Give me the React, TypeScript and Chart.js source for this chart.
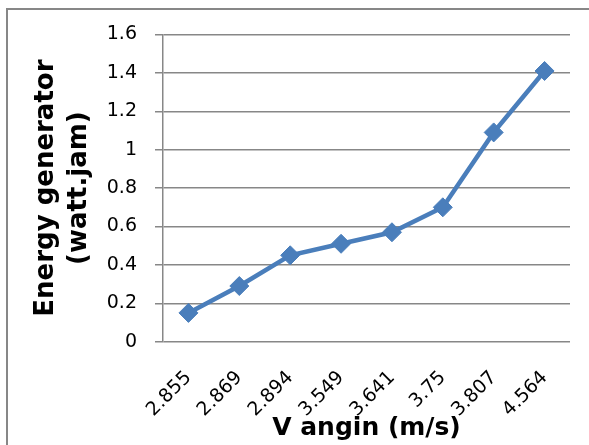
import React, { useEffect, useRef } from "react";
import { Chart, registerables } from "chart.js";

Chart.register(...registerables);

const categories = ["2.855", "2.869", "2.894", "3.549", "3.641", "3.75", "3.807", "4.564"];
const energyValues = [0.15, 0.29, 0.45, 0.51, 0.57, 0.7, 1.09, 1.41];
const yTitleLines = ["Energy generator", "(watt.jam)"];
const xTitle = "V angin (m/s)";

const W = 589;
const H = 445;

export default function App() {
  const ref = useRef<HTMLCanvasElement | null>(null);

  useEffect(() => {
    if (!ref.current) return;
    const chart = new Chart(ref.current, {
      type: "line",
      data: {
        labels: categories,
        datasets: [
          {
            data: energyValues,
            borderColor: "#4A7EBB",
            backgroundColor: "#4A7EBB",
            borderWidth: 4.5,
            pointStyle: "rectRot",
            pointRadius: 9.5,
            pointBorderWidth: 1,
            pointBorderColor: "#4A7EBB",
            pointBackgroundColor: "#4A7EBB",
            tension: 0,
          },
        ],
      },
      options: {
        animation: false,
        responsive: false,
        devicePixelRatio: 1,
        layout: { padding: { top: 34.5, right: 19, left: 0, bottom: 0 } },
        plugins: {
          legend: { display: false },
          tooltip: { enabled: false },
          title: { display: false },
        },
        scales: {
          x: {
            type: "category",
            offset: true,
            afterFit: (s: any) => {
              s.height = 103.3;
            },
            grid: { display: false, drawTicks: false },
            border: { display: false },
            ticks: {
              autoSkip: false,
              minRotation: 45,
              maxRotation: 45,
              padding: 25,
              color: "#000",
              font: { family: "DejaVu Sans", size: 19 },
            },
            title: {
              display: true,
              text: xTitle,
              color: "#000",
              font: { family: "DejaVu Sans", size: 25, weight: "bold", lineHeight: 1.2 },
              padding: { top: 0, bottom: 2 },
            },
          },
          y: {
            min: 0,
            max: 1.6,
            afterFit: (s: any) => {
              s.width = 163;
            },
            grid: {
              color: "#878787",
              lineWidth: 1.5,
              drawTicks: true,
              tickLength: 8,
            },
            border: { display: true, color: "#878787", width: 1.5 },
            ticks: {
              stepSize: 0.2,
              padding: 18,
              color: "#000",
              font: { family: "DejaVu Sans", size: 19 },
              callback: (v: any) => String(Number(Number(v).toFixed(1))),
            },
            title: {
              display: true,
              text: yTitleLines,
              color: "#000",
              font: { family: "DejaVu Sans", size: 26, weight: "bold", lineHeight: 1.3 },
              padding: { top: 29, bottom: 0 },
            },
          },
        },
      },
    });
    return () => chart.destroy();
  }, []);

  return (
    <div style={{ position: "fixed", left: 0, top: 0, width: W, height: H, background: "#fff", overflow: "hidden" }}>
      <div
        style={{
          position: "absolute",
          left: 6,
          top: 8,
          width: 700,
          height: 600,
          borderLeft: "2px solid #878787",
          borderTop: "2px solid #878787",
        }}
      />
      <canvas ref={ref} width={W} height={H} style={{ position: "absolute", left: 0, top: 0, width: W, height: H }} />
    </div>
  );
}
